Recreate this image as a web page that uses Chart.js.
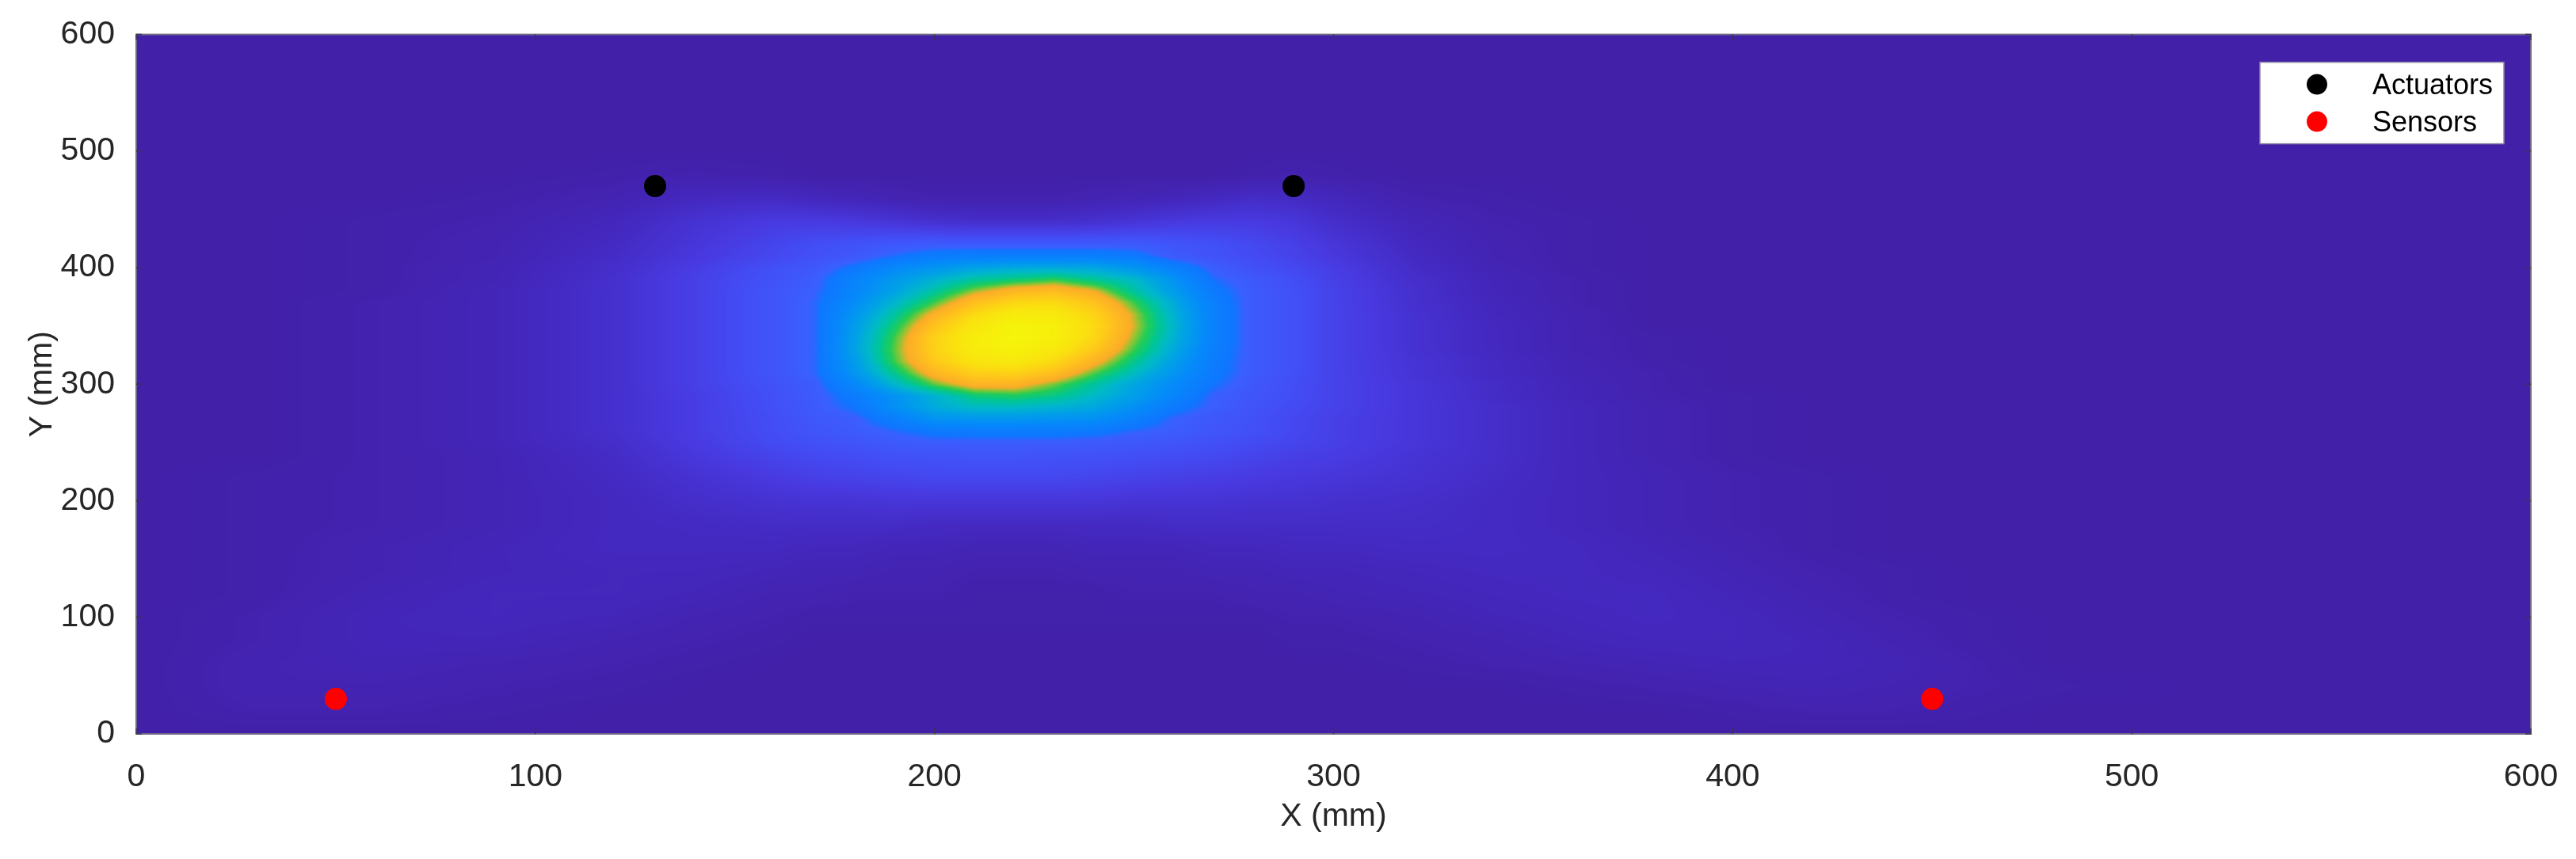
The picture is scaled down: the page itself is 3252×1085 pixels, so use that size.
<!DOCTYPE html>
<html>
<head>
<meta charset="utf-8">
<script src="https://cdn.jsdelivr.net/npm/chart.js@4.4.0/dist/chart.umd.min.js"></script>
<style>
  html, body { margin: 0; padding: 0; background: #ffffff; }
</style>
</head>
<body>
<canvas id="grafico" width="3252" height="1085"></canvas>
<script>
// --- Datos ---
// Posiciones de actuadores y sensores (mm)
const actuadoresX = [130, 290];
const actuadoresY = [470, 470];
const sensoresX = [50, 450];
const sensoresY = [30, 30];

const ticksEje = [0, 100, 200, 300, 400, 500, 600];

// Nodos de la malla del mapa de intensidad (mm), más finos cerca del foco
const mallaX = [0, 30, 60, 90, 120, 140, 160, 170, 180, 190, 200, 210, 220, 230, 240, 250, 260,
                270, 280, 290, 300, 320, 340, 360, 380, 400, 420, 440, 460, 480, 520, 560, 600];
// filas de arriba (y = 600) hacia abajo (y = 0)
const mallaY = [600, 550, 500, 480, 460, 440, 420, 410, 400, 390, 380, 370, 360, 350, 340, 330,
                320, 310, 300, 290, 280, 270, 260, 250, 240, 220, 200, 180, 160, 140, 120, 100,
                80, 60, 40, 20, 0];

const intensidad = [
  [0,0,0,0,0,0,0,0,0,0,0,0,0,0,0,0,0,0,0,0,0,0,0,0,0,0,0,0,0,0,0,0,0],
  [0,0,0,0,0,0,0,0,0,0,0,0,0,0,0,0,0,0,0,0,0,0,0,0,0,0,0,0,0,0,0,0,0],
  [0,0,0,0,0,0,0,0,0,0,0,0,0,0,0,0,0,0,0,0,0,0,0,0,0,0,0,0,0,0,0,0,0],
  [0,0,0,0,1,2,1,0,0,0,0,0,0,0,0,0,0,0,1,2,1,0,0,0,0,0,0,0,0,0,0,0,0],
  [0,0,0,1,3,7,8,6,5,3,2,2,2,2,3,4,5,7,9,8,6,2,1,0,0,0,0,0,0,0,0,0,0],
  [0,0,1,2,6,12,16,16,15,13,11,10,10,10,11,13,15,16,16,14,10,5,2,1,0,0,0,0,0,0,0,0,0],
  [0,0,1,3,8,14,20,23,25,27,28,28,28,28,28,28,26,24,21,18,14,7,3,1,0,0,0,0,0,0,0,0,0],
  [0,0,1,3,9,15,21,24,27,32,36,37,37,37,37,35,28,25,22,19,15,8,3,1,0,0,0,0,0,0,0,0,0],
  [0,0,1,4,10,17,24,27,34,41,46,50,52,52,51,46,38,29,24,21,17,9,4,1,0,0,0,0,0,0,0,0,0],
  [0,0,1,4,11,18,25,29,39,47,54,60,63,66,61,56,45,32,27,23,18,10,5,2,0,0,0,0,0,0,0,0,0],
  [0,0,1,5,11,18,26,30,40,50,60,70,77,79,73,60,48,35,28,24,19,11,5,2,0,0,0,0,0,0,0,0,0],
  [0,0,2,5,11,18,26,31,43,55,67,80,87,88,81,67,52,37,28,24,19,11,6,2,0,0,0,0,0,0,0,0,0],
  [0,0,2,5,11,18,26,31,46,60,75,88,95,94,86,71,54,38,28,24,19,12,6,3,0,0,0,0,0,0,0,0,0],
  [0,0,2,5,11,18,26,31,48,64,81,93,99,97,88,72,55,38,28,24,19,12,7,3,0,0,0,0,0,0,0,0,0],
  [0,0,2,5,11,18,26,31,49,67,85,96,100,97,87,70,54,38,28,24,19,12,7,3,1,0,0,0,0,0,0,0,0],
  [0,0,2,5,11,18,26,31,50,68,85,95,98,94,83,67,52,37,28,24,19,12,7,3,1,0,0,0,0,0,0,0,0],
  [0,0,2,5,11,18,26,31,48,67,83,92,94,88,76,62,49,36,28,24,19,13,8,4,1,0,0,0,0,0,0,0,0],
  [0,0,2,5,11,18,26,31,46,62,77,85,86,80,68,57,46,35,28,24,19,13,8,4,2,0,0,0,0,0,0,0,0],
  [0,0,2,5,11,18,25,29,41,55,68,76,76,69,60,51,42,33,27,23,19,14,9,5,2,0,0,0,0,0,0,0,0],
  [0,0,2,5,11,17,24,28,36,45,54,63,65,62,56,49,40,30,26,23,19,14,9,5,2,1,0,0,0,0,0,0,0],
  [0,0,2,5,11,17,24,28,33,44,52,56,56,54,51,44,35,29,25,22,19,14,10,6,3,1,0,0,0,0,0,0,0],
  [0,0,2,5,11,17,23,27,29,37,45,46,46,45,44,38,30,27,24,21,18,14,10,6,3,1,0,0,0,0,0,0,0],
  [0,0,2,5,11,17,23,26,28,31,35,36,36,36,35,31,29,26,24,21,18,14,10,6,3,1,0,0,0,0,0,0,0],
  [0,0,2,5,10,16,22,24,26,28,29,29,29,29,28,27,26,24,22,20,18,14,10,6,3,1,0,0,0,0,0,0,0],
  [0,0,2,4,9,15,20,22,23,25,25,26,26,25,25,24,23,22,20,18,17,13,10,6,3,1,0,0,0,0,0,0,0],
  [0,1,2,4,8,12,16,18,19,20,21,21,21,21,20,19,18,17,16,15,14,12,9,6,4,2,1,0,0,0,0,0,0],
  [0,1,2,4,7,10,12,13,13,14,14,14,14,14,14,13,13,13,12,12,11,10,8,6,4,2,1,0,0,0,0,0,0],
  [0,1,2,4,7,8,9,9,9,9,8,8,8,8,8,8,9,9,9,9,9,9,8,6,4,2,1,0,0,0,0,0,0],
  [0,1,3,5,7,7,7,6,6,5,5,4,4,4,5,5,5,6,6,7,7,8,8,7,5,3,1,0,0,0,0,0,0],
  [0,1,3,5,6,6,5,4,4,3,3,2,2,2,3,3,3,4,4,5,5,6,7,7,6,4,2,1,0,0,0,0,0],
  [0,1,4,6,6,5,3,3,2,2,2,1,1,1,1,2,2,2,3,3,4,5,6,7,7,5,3,1,0,0,0,0,0],
  [0,2,5,6,5,3,2,1,1,1,1,1,1,1,1,1,1,1,1,2,2,3,5,6,7,6,4,2,1,0,0,0,0],
  [0,2,5,5,3,2,1,0,0,0,0,0,0,0,0,0,0,0,0,1,1,2,3,5,6,6,5,3,1,0,0,0,0],
  [0,3,4,3,2,1,0,0,0,0,0,0,0,0,0,0,0,0,0,0,0,1,2,3,4,5,5,4,2,0,0,0,0],
  [0,3,3,2,1,0,0,0,0,0,0,0,0,0,0,0,0,0,0,0,0,0,0,1,2,3,4,3,2,1,0,0,0],
  [0,2,2,1,0,0,0,0,0,0,0,0,0,0,0,0,0,0,0,0,0,0,0,0,0,1,2,2,1,0,0,0,0],
  [0,0,0,0,0,0,0,0,0,0,0,0,0,0,0,0,0,0,0,0,0,0,0,0,0,0,0,0,0,0,0,0,0]
];

// Escala de color (nivel -> rgb)
const nivelesEscala = [0, 8, 16, 24, 30, 33, 42, 50, 56, 61, 66, 70, 73, 80, 90, 100];
const coloresEscala = [
  [66, 32, 168], [68, 42, 195], [72, 58, 225], [66, 80, 248], [58, 95, 255],
  [15, 118, 255], [5, 138, 250], [0, 162, 230], [0, 185, 200], [0, 198, 150],
  [35, 205, 85], [150, 195, 50], [250, 172, 40], [255, 192, 30], [250, 225, 15],
  [245, 245, 10]
];

const fuente = '"Liberation Sans", Arial, Helvetica, sans-serif';
const colorTexto = '#262626';

// --- Utilidades ---
function colorDeNivel(v) {
  if (v <= nivelesEscala[0]) return coloresEscala[0];
  for (let i = 1; i < nivelesEscala.length; i++) {
    if (v <= nivelesEscala[i]) {
      const t = (v - nivelesEscala[i - 1]) / (nivelesEscala[i] - nivelesEscala[i - 1]);
      const a = coloresEscala[i - 1], b = coloresEscala[i];
      return [a[0] + (b[0] - a[0]) * t, a[1] + (b[1] - a[1]) * t, a[2] + (b[2] - a[2]) * t];
    }
  }
  return coloresEscala[coloresEscala.length - 1];
}

// intervalo de la malla que contiene v y fracción dentro de él
function ubicar(malla, v) {
  const n = malla.length;
  for (let i = 0; i < n - 1; i++) {
    const a = malla[i], b = malla[i + 1];
    if ((v - a) * (v - b) <= 0) return [i, (v - a) / (b - a)];
  }
  return (Math.abs(v - malla[0]) < Math.abs(v - malla[n - 1])) ? [0, 0] : [n - 2, 1];
}

// Mapa de intensidad sombreado sobre el área del gráfico (como shading interp)
const mapaCalor = {
  id: 'mapaCalor',
  beforeDatasetsDraw(chart) {
    const { ctx, chartArea, scales } = chart;
    const w = Math.round(chartArea.width), h = Math.round(chartArea.height);
    const aux = document.createElement('canvas');
    aux.width = w;
    aux.height = h;
    const actx = aux.getContext('2d');
    const img = actx.createImageData(w, h);

    const tabla = [];
    for (let k = 0; k <= 1000; k++) tabla.push(colorDeNivel(k / 10));

    const colX = [];
    for (let i = 0; i < w; i++) colX.push(ubicar(mallaX, scales.x.getValueForPixel(chartArea.left + i + 0.5)));
    const filY = [];
    for (let j = 0; j < h; j++) filY.push(ubicar(mallaY, scales.y.getValueForPixel(chartArea.top + j + 0.5)));

    for (let j = 0; j < h; j++) {
      const [r, fy] = filY[j];
      const f0 = intensidad[r], f1 = intensidad[r + 1];
      for (let i = 0; i < w; i++) {
        const [c, fx] = colX[i];
        const top = f0[c] + (f0[c + 1] - f0[c]) * fx;
        const bot = f1[c] + (f1[c + 1] - f1[c]) * fx;
        const v = top + (bot - top) * fy;
        const col = tabla[Math.max(0, Math.min(1000, Math.round(v * 10)))];
        const k = (j * w + i) * 4;
        img.data[k] = col[0];
        img.data[k + 1] = col[1];
        img.data[k + 2] = col[2];
        img.data[k + 3] = 255;
      }
    }
    actx.putImageData(img, 0, 0);
    ctx.drawImage(aux, chartArea.left, chartArea.top, chartArea.width, chartArea.height);
  },
  afterDatasetsDraw(chart) {
    const { ctx, chartArea, scales } = chart;
    // marco de los ejes
    ctx.save();
    ctx.strokeStyle = '#6f6a85';
    ctx.lineWidth = 2;
    ctx.strokeRect(chartArea.left, chartArea.top, chartArea.width, chartArea.height);

    // marcas de los ticks hacia dentro, en los cuatro lados
    ctx.strokeStyle = '#3a3552';
    ctx.lineWidth = 1.5;
    ctx.beginPath();
    ticksEje.forEach(v => {
      const px = scales.x.getPixelForValue(v);
      const py = scales.y.getPixelForValue(v);
      ctx.moveTo(px, chartArea.bottom); ctx.lineTo(px, chartArea.bottom - 7);
      ctx.moveTo(px, chartArea.top); ctx.lineTo(px, chartArea.top + 7);
      ctx.moveTo(chartArea.left, py); ctx.lineTo(chartArea.left + 7, py);
      ctx.moveTo(chartArea.right, py); ctx.lineTo(chartArea.right - 7, py);
    });
    ctx.stroke();

    // leyenda dentro del área
    const ancho = 308, alto = 103;
    const izq = chartArea.right - 34 - ancho;
    const arriba = chartArea.top + 35;
    ctx.fillStyle = '#ffffff';
    ctx.fillRect(izq, arriba, ancho, alto);
    ctx.strokeStyle = '#8a86a0';
    ctx.lineWidth = 1.5;
    ctx.strokeRect(izq, arriba, ancho, alto);
    ctx.font = '36px ' + fuente;
    ctx.textBaseline = 'middle';
    ctx.textAlign = 'left';
    chart.data.datasets.forEach((ds, i) => {
      const yy = arriba + 28 + i * 47;
      ctx.fillStyle = ds.backgroundColor;
      ctx.beginPath();
      ctx.arc(izq + 72, yy, 13, 0, Math.PI * 2);
      ctx.fill();
      ctx.fillStyle = '#000000';
      ctx.fillText(ds.label, izq + 142, yy + 2);
    });
    ctx.restore();
  }
};

// --- Gráfico ---
const puntos = (xs, ys) => xs.map((x, i) => ({ x, y: ys[i] }));

new Chart(document.getElementById('grafico'), {
  type: 'scatter',
  data: {
    datasets: [
      {
        label: 'Actuators',
        data: puntos(actuadoresX, actuadoresY),
        backgroundColor: '#000000',
        borderWidth: 0,
        pointRadius: 14,
        pointHoverRadius: 14
      },
      {
        label: 'Sensors',
        data: puntos(sensoresX, sensoresY),
        backgroundColor: '#ff0000',
        borderWidth: 0,
        pointRadius: 14,
        pointHoverRadius: 14
      }
    ]
  },
  options: {
    responsive: false,
    animation: false,
    devicePixelRatio: 1,
    layout: { padding: { top: 43, right: 57, left: 0, bottom: 0 } },
    plugins: {
      legend: { display: false },
      tooltip: { enabled: false }
    },
    scales: {
      x: {
        type: 'linear',
        min: 0,
        max: 600,
        afterBuildTicks: (s) => { s.ticks = ticksEje.map(v => ({ value: v })); },
        afterFit: (s) => { s.height = 158; },
        grid: { display: false },
        border: { display: false },
        ticks: { color: colorTexto, font: { family: fuente, size: 41 }, padding: 22, maxRotation: 0 },
        title: {
          display: true,
          text: 'X (mm)',
          color: colorTexto,
          font: { family: fuente, size: 41 },
          padding: { top: 29, bottom: 29 }
        }
      },
      y: {
        type: 'linear',
        min: 0,
        max: 600,
        afterBuildTicks: (s) => { s.ticks = ticksEje.map(v => ({ value: v })); },
        afterFit: (s) => { s.width = 172; },
        grid: { display: false },
        border: { display: false },
        ticks: { color: colorTexto, font: { family: fuente, size: 41 }, padding: 19 },
        title: {
          display: true,
          text: 'Y (mm)',
          color: colorTexto,
          font: { family: fuente, size: 41 },
          padding: { top: 29, bottom: 29 }
        }
      }
    }
  },
  plugins: [mapaCalor]
});
</script>
</body>
</html>
